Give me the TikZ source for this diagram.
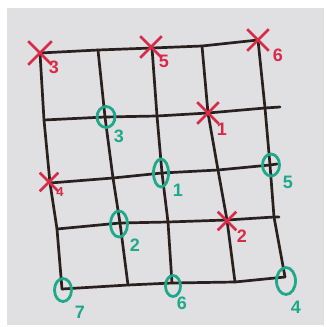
\documentclass[tikz,border=0pt]{standalone}
\usepackage{fontspec}
\setmainfont{Liberation Sans}
\usetikzlibrary{shapes.misc,shapes.geometric}
\definecolor{paper}{HTML}{E0DFE2}
\definecolor{ink}{HTML}{2A201E}
\definecolor{redm}{HTML}{D62C48}
\definecolor{grnm}{HTML}{1FA98A}
\tikzset{
  gridline/.style={draw=ink,line width=2.7pt,line join=round,line cap=round},
  xmark/.style={cross out,draw=redm,line width=2.6pt,minimum size=19pt,inner sep=0pt},
  omark/.style={ellipse,draw=grnm,line width=2.8pt,inner sep=0pt,minimum width=17pt,minimum height=23pt},
  rlab/.style={text=redm,font=\fontsize{18}{18}\selectfont\bfseries,inner sep=0pt},
  glab/.style={text=grnm,font=\fontsize{18}{18}\selectfont\bfseries,inner sep=0pt},
}
\begin{document}
\begin{tikzpicture}[x=1pt,y=-1pt]
\useasboundingbox (0,0) rectangle (326,327);
\fill[white] (0,0) rectangle (326,327);
\fill[paper] (7,8) rectangle (324,325);
% grid points
\coordinate (a0) at (40,53);  \coordinate (a1) at (98,50);  \coordinate (a2) at (152,48); \coordinate (a3) at (202,46); \coordinate (a4) at (258,40);
\coordinate (b0) at (44,120); \coordinate (b1) at (105,117); \coordinate (b2) at (157,116); \coordinate (b3) at (208,113); \coordinate (b4) at (265,108); \coordinate (b5) at (280,107);
\coordinate (c0) at (50,183); \coordinate (c1) at (113,178); \coordinate (c2) at (162,173); \coordinate (c3) at (218,170); \coordinate (c4) at (270,165); \coordinate (c5) at (277,164);
\coordinate (d0) at (57,229); \coordinate (d1) at (120,223); \coordinate (d2) at (168,222); \coordinate (d3) at (227,220); \coordinate (d4) at (274,217); \coordinate (d5) at (279,217);
\coordinate (e0) at (62,289); \coordinate (e1) at (128,285); \coordinate (e2) at (172,283); \coordinate (e3) at (235,282); \coordinate (e4) at (285,277);
% horizontal lines
\draw[gridline] (a0) -- (a1) -- (a2) -- (a3) -- (a4);
\draw[gridline] (b0) -- (b1) -- (b2) -- (b3) -- (b4) -- (b5);
\draw[gridline] (c0) -- (c1) -- (c2) -- (c3) -- (c4) -- (c5);
\draw[gridline] (d0) -- (d1) -- (d2) -- (d3) -- (d4) -- (d5);
\draw[gridline] (e0) -- (e1) -- (e2) -- (e3) -- (e4);
% vertical lines
\draw[gridline] (a0) -- (b0) -- (c0) -- (d0) -- (e0);
\draw[gridline] (a1) -- (b1) -- (c1) -- (d1) -- (e1);
\draw[gridline] (a2) -- (b2) -- (c2) -- (d2) -- (e2);
\draw[gridline] (a3) -- (b3) -- (c3) -- (d3) -- (e3);
\draw[gridline] (a4) -- (b4) -- (c4) -- (d4) -- (e4);
% red crosses
\node[xmark,minimum size=21pt] (x3) at (40,53) {};
\node[xmark] (x5) at (151,47) {};
\node[xmark] (x6) at (258,40) {};
\node[xmark] (x1) at (208,113) {};
\node[xmark,minimum size=16pt] (x4) at (49,182) {};
\node[xmark,minimum size=16pt] (x2) at (227,221) {};
\node[rlab] (lx3) at (54,67) {3};
\node[rlab] (lx5) at (164,61) {5};
\node[rlab] (lx6) at (278,55) {6};
\node[rlab] (lx1) at (222,129) {1};
\node[rlab,font=\fontsize{13}{13}\selectfont\bfseries] (lx4) at (60,192) {4};
\node[rlab] (lx2) at (242,236) {2};
% green circles
\node[omark,minimum width=18pt,minimum height=21pt] (o3) at (106,117) {};
\node[omark,minimum width=15pt,minimum height=28pt] (o1) at (161,173) {};
\node[omark,minimum width=17pt,minimum height=22pt] (o5) at (271,165) {};
\node[omark,minimum width=17pt,minimum height=26pt] (o2) at (119,224) {};
\node[omark,minimum width=17pt,minimum height=23pt] (o7) at (63,290) {};
\node[omark,minimum width=15pt,minimum height=21pt] (o6) at (173,286) {};
\node[omark,minimum width=19pt,minimum height=27pt] (o4) at (286,281) {};
\node[glab] (lo3) at (119,136) {3};
\node[glab] (lo1) at (178,190) {1};
\node[glab] (lo5) at (288,182) {5};
\node[glab] (lo2) at (135,245) {2};
\node[glab] (lo7) at (80,312) {7};
\node[glab] (lo6) at (182,303) {6};
\node[glab] (lo4) at (296,307) {4};
\end{tikzpicture}
\end{document}
